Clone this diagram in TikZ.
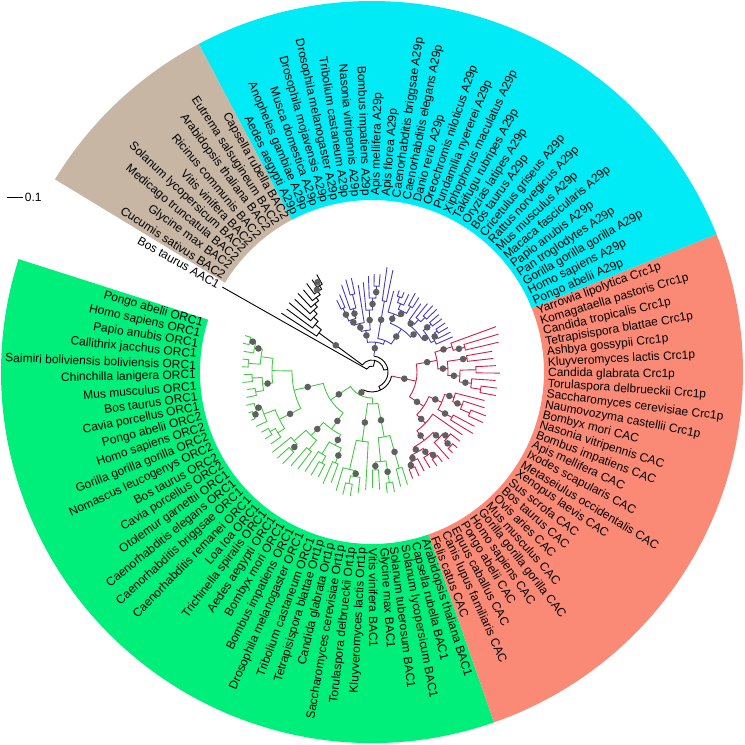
\documentclass[tikz,border=0pt]{standalone}
\usepackage{fontspec}
\setmainfont{Liberation Sans}

\definecolor{secA}{RGB}{0,235,245}
\definecolor{secB}{RGB}{200,182,165}
\definecolor{secC}{RGB}{250,138,118}
\definecolor{secD}{RGB}{0,238,122}
\definecolor{brBlue}{RGB}{70,60,190}
\definecolor{brRed}{RGB}{205,30,70}
\definecolor{brGreen}{RGB}{70,200,70}
\definecolor{dotGrey}{RGB}{95,95,95}

\def\tstart{164}
\def\tstep{3.43}

\tikzset{
  leaf/.style={inner sep=0pt, font=\fontsize{12}{14}\selectfont},
  branch/.style={line width=0.9pt},
  boot/.style={fill=dotGrey}
}

% one internal node: radius, first child (pos, radius), last child (pos, radius)
\newcommand\tnode[5]{%
  \pgfmathsetmacro\angA{\tstart+\tstep*#2}%
  \pgfmathsetmacro\angB{\tstart+\tstep*#4}%
  \draw (\angA:#3pt) -- (\angA:#1pt) arc[start angle=\angA, end angle=\angB, radius=#1pt] -- (\angB:#5pt);
}
\newcommand\tstem[3]{%
  \pgfmathsetmacro\angA{\tstart+\tstep*#1}%
  \draw (\angA:#2pt) -- (\angA:#3pt);
}
\newcommand\sector[3]{%
  \pgfmathsetmacro\angA{\tstart+\tstep*#2}%
  \pgfmathsetmacro\angB{\tstart+\tstep*#3}%
  \fill[#1] (\angA:172pt) arc[start angle=\angA, end angle=\angB, radius=172pt]
    -- (\angB:371pt) arc[start angle=\angB, end angle=\angA, radius=371pt] -- cycle;
}

\begin{document}
\begin{tikzpicture}
\useasboundingbox (-372pt,-373pt) rectangle (373pt,372pt);

\sector{secD}{-0.5}{36.5}
\sector{secC}{36.5}{63.5}
\sector{secA}{63.5}{91.5}
\sector{secB}{91.5}{100.5}

% root and BAC2 clade
\begin{scope}[branch, black]
\foreach \nR/\pA/\rA/\pB/\rB in {6/79.44/12/101/172, 12/59.87/16/99.0/66, 16/38.33/20/81.41/16, 20/22.92/20/53.73/20,
  66/98.01/74/100/108, 74/97.02/80/99/106, 80/96.03/85/98/108, 85/95.06/89/97/106,
  89/94.125/93/96/108, 93/93.25/97/95/107, 97/92.5/101/94/110, 101/92/112/93/110}
  \tnode{\nR}{\pA}{\rA}{\pB}{\rB};
\end{scope}

% A29p clade
\begin{scope}[branch, brBlue]
\tstem{81.41}{16}{30}
\foreach \nR/\pA/\rA/\pB/\rB in {30/76.93/34/85.9/42, 34/73.36/52/80.5/72, 52/69.41/60/77.31/62,
  60/66.69/66/72.125/64, 66/64.875/70/68.5/76, 70/64/88/65.75/74, 74/65/88/66.5/77,
  77/66/88/67/88, 76/68/88/69/88, 64/71.25/70/73/84, 70/70.5/76/72/88, 76/70/90/71/90,
  62/75.625/68/79/84, 68/74.5/76/76.75/74, 76/74/88/75/90, 74/76/86/77.5/80, 80/77/86/78/86,
  72/80/104/81/106, 42/84.125/62/87.69/50, 62/83.25/74/85/90, 74/82.5/86/84/96, 86/82/98/83/98,
  50/86/88/89.375/56, 56/88.25/66/90.5/70, 66/87.5/80/89/92, 80/87/96/88/96, 70/90/84/91/80}
  \tnode{\nR}{\pA}{\rA}{\pB}{\rB};
\end{scope}

% Crc1p and CAC clade
\begin{scope}[branch, brRed]
\tstem{53.73}{20}{45}
\foreach \nR/\pA/\rA/\pB/\rB in {45/47.36/62/60.09/66, 66/57.94/76/62.25/84, 76/56.375/88/59.5/96,
  88/55.25/100/57.5/104, 100/54.5/110/56/124, 110/54/126/55/126, 104/57/128/58/124,
  96/59/122/60/122, 84/61.5/96/63/132, 96/61/130/62/132, 62/44.41/74/50.31/76,
  76/48.5/92/52.125/86, 92/48/118/49/116, 86/51.25/96/53/116, 96/50.5/106/52/118,
  106/50/122/51/122, 74/41.81/86/47/110, 86/39.5/92/44.125/94, 92/38.25/98/40.75/100,
  98/37.5/104/39/112, 104/37/114/38/114, 100/40/112/41.5/106, 106/41/114/42/114,
  94/43/116/45.25/100, 100/44.5/108/46/112, 108/44/114/45/114}
  \tnode{\nR}{\pA}{\rA}{\pB}{\rB};
\end{scope}

% ORC, Ort1p and BAC1 clade
\begin{scope}[branch, brGreen]
\tstem{22.92}{20}{26}
\foreach \nR/\pA/\rA/\pB/\rB in {26/14.56/50/31.28/32, 32/28.56/70/34/66, 70/27.125/100/30/118,
  100/26/124/28.25/106, 106/27.5/114/29/122, 114/27/126/28/126, 66/32.5/90/35.5/100,
  90/31.5/98/33.5/112, 98/31/116/32/118, 112/33/122/34/122, 100/35/118/36/118,
  50/8.5/80/20.625/70, 80/4.44/100/12.56/104, 100/2.375/112/6.5/110, 112/1.25/120/3.5/124,
  120/0.5/126/2/130, 126/0/132/1/132, 124/3/130/4/130, 110/5.5/120/7.5/118, 120/5/128/6/130,
  118/7/126/8/128, 104/10.875/116/14.25/112, 116/9.75/122/12/128, 122/9/130/10.5/126,
  126/10/130/11/130, 112/13.5/118/15/124, 118/13/126/14/126, 70/18.125/88/23.125/82,
  88/16.75/104/19.5/100, 104/16/128/17.5/112, 112/17/128/18/128, 100/19/124/20/122,
  82/21.75/96/24.5/98, 96/21/120/22.5/104, 104/22/120/23/118, 98/24/122/25/118}
  \tnode{\nR}{\pA}{\rA}{\pB}{\rB};
\end{scope}

% bootstrap dots
\foreach \p/\r in {99.0/45, 93.25/99, 92.5/105,
  81.41/24, 85.9/37, 87.69/46, 89.375/53, 88.25/61, 90.5/63, 84.125/52, 83.25/68, 82.5/80,
  80.5/53, 73.36/43, 75.625/65, 69.41/56, 66.69/63, 72.125/62, 68.5/71, 65.75/72, 77.31/57,
  53.73/33, 60.09/56, 57.94/71, 62.25/75, 56.375/82, 59.5/92, 55.25/94, 61.5/90, 47.36/54,
  50.31/69, 44.41/68, 48.5/84, 52.125/81, 51.25/91, 41.81/80, 39.5/89, 44.125/90, 38.25/95,
  40.75/96, 45.25/97, 37.5/101, 41.5/103, 44.5/104,
  22.92/23, 14.56/40, 8.5/66, 12.56/92, 6.5/105, 1.25/116, 0.5/123, 10.5/124, 9.75/119,
  17.5/108, 18.125/79, 23.125/76, 24.5/90, 28.25/103, 28.56/51, 34/49, 31.5/94, 33.5/101,
  35.5/83, 20.625/60}{
  \pgfmathsetmacro\angA{\tstart+\tstep*\p}
  \fill[boot] (\angA:\r pt) circle[radius=3.3pt];
}

% leaf labels
\foreach \p/\name in {0/Pongo abelii ORC1, 1/Homo sapiens ORC1, 2/Papio anubis ORC1,
  3/Callithrix jacchus ORC1, 4/Saimiri boliviensis boliviensis ORC1, 5/Chinchilla lanigera ORC1,
  6/Mus musculus ORC1, 7/Bos taurus ORC1, 8/Cavia porcellus ORC1, 9/Pongo abelii ORC2,
  10/Homo sapiens ORC2, 11/Gorilla gorilla gorilla ORC2, 12/Nomascus leucogenys ORC2,
  13/Bos taurus ORC2, 14/Cavia porcellus ORC2, 15/Otolemur garnettii ORC1,
  16/Caenorhabditis elegans ORC1, 17/Caenorhabditis briggsae ORC1, 18/Caenorhabditis remanei ORC1,
  19/Loa loa ORC1, 20/Trichinella spiralis ORC1, 21/Aedes aegypti ORC1, 22/Bombyx mori ORC1,
  23/Bombus impatiens ORC1, 24/Drosophila melanogaster ORC1, 25/Tribolium castaneum ORC1,
  26/Tetrapisispora blattae Ort1p, 27/Candida glabrata Ort1p, 28/Saccharomyces cerevisiae Ort1p,
  29/Torulaspora delbrueckii Ort1p, 30/Kluyveromyces lactis Ort1p, 31/Vitis vinifera BAC1,
  32/Glycine max BAC1, 33/Solanum tuberosum BAC1, 34/Solanum lycopersicum BAC1,
  35/Capsella rubella BAC1, 36/Arabidopsis thaliana BAC1,
  37/Felis catus CAC, 38/Canis lupus familiaris CAC, 39/Equus caballus CAC, 40/Pongo abelii CAC,
  41/Homo sapiens CAC, 42/Gorilla gorilla gorilla CAC, 43/Mus musculus CAC, 44/Ovis aries CAC,
  45/Bos taurus CAC, 46/Sus scrofa CAC, 47/Xenopus laevis CAC, 48/Metaseiulus occidentalis CAC,
  49/Ixodes scapularis CAC, 50/Apis mellifera CAC, 51/Bombus impatiens CAC,
  52/Nasonia vitripennis CAC, 53/Bombyx mori CAC, 54/Naumovozyma castellii Crc1p,
  55/Saccharomyces cerevisiae Crc1p, 56/Torulaspora delbrueckii Crc1p, 57/Candida glabrata Crc1p,
  58/Kluyveromyces lactis Crc1p, 59/Ashbya gossypii Crc1p, 60/Tetrapisispora blattae Crc1p,
  61/Candida tropicalis Crc1p, 62/Komagataella pastoris Crc1p, 63/Yarrowia lipolytica Crc1p,
  64/Pongo abelii A29p, 65/Homo sapiens A29p, 66/Gorilla gorilla gorilla A29p,
  67/Pan troglodytes A29p, 68/Papio anubis A29p, 69/Macaca fascicularis A29p,
  70/Mus musculus A29p, 71/Rattus norvegicus A29p, 72/Cricetulus griseus A29p,
  73/Bos taurus A29p, 74/Oryzias latipes A29p, 75/Takifugu rubripes A29p,
  76/Xiphophorus maculatus A29p, 77/Pundamilia nyererei A29p, 78/Oreochromis niloticus A29p,
  79/Danio rerio A29p, 80/Caenorhabditis elegans A29p, 81/Caenorhabditis briggsae A29p,
  82/Apis florea A29p, 83/Apis mellifera A29p, 84/Bombus impatiens A29p,
  85/Nasonia vitripennis A29p, 86/Tribolium castaneum A29p, 87/Drosophila melanogaster A29p,
  88/Drosophila mojavensis A29p, 89/Musca domestica A29p, 90/Anopheles gambiae A29p,
  91/Aedes aegypti A29p, 92/Capsella rubella BAC2, 93/Eutrema salsugineum BAC2,
  94/Arabidopsis thaliana BAC2, 95/Ricinus communis BAC2, 96/Vitis vinifera BAC2,
  97/Solanum lycopersicum BAC2, 98/Medicago truncatula BAC2, 99/Glycine max BAC2,
  100/Cucumis sativus BAC2, 101/Bos taurus AAC1}{
  \pgfmathsetmacro\angA{mod(\tstart+\tstep*\p,360)}
  \pgfmathtruncatemacro\lft{and(\angA>90,\angA<270)}
  \ifnum\lft=1
    \node[leaf, anchor=east, rotate=\angA+180] (lab\p) at (\angA:176pt) {\name};
  \else
    \node[leaf, anchor=west, rotate=\angA] (lab\p) at (\angA:176pt) {\name};
  \fi
}

% scale bar
\coordinate (sbar) at (-365pt,175pt);
\draw[line width=0.8pt] (sbar) -- ++(16pt,0) node[leaf, anchor=west, xshift=1.5pt] (sbarlab) {0.1};

\end{tikzpicture}
\end{document}
